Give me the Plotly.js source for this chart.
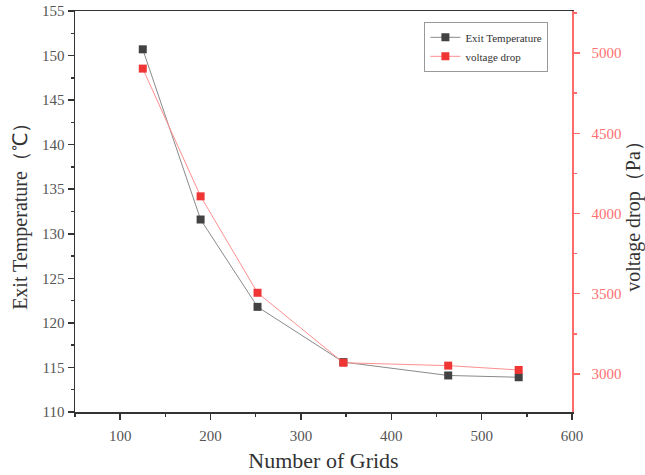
<!DOCTYPE html>
<html>
<head>
<meta charset="utf-8">
<script src="https://cdn.plot.ly/plotly-3.0.1.min.js"></script>
<style>html,body{margin:0;padding:0;background:#fff;}#chart{width:645px;height:475px;}</style>
</head>
<body>
<div id="chart"></div>
<script>
const grids = [125, 189, 252, 347, 463, 541];
const exitTemperature = [150.7, 131.6, 121.8, 115.6, 114.1, 113.9];
const voltageDrop = [4903, 4107, 3506, 3070, 3052, 3025];
const seriesNames = ["Exit Temperature", "voltage drop"];

const serif = "Liberation Serif, Times New Roman, serif";

const traces = [
  {
    x: grids, y: exitTemperature, name: seriesNames[0], type: "scatter", mode: "lines+markers",
    line: {color: "#8a8a8a", width: 1},
    marker: {symbol: "square", size: 8, color: "#424242"},
    yaxis: "y"
  },
  {
    x: grids, y: voltageDrop, name: seriesNames[1], type: "scatter", mode: "lines+markers",
    line: {color: "#ff9090", width: 1},
    marker: {symbol: "square", size: 8, color: "#f03535"},
    yaxis: "y2"
  }
];

const layout = {
  width: 645, height: 475,
  margin: {l: 75, r: 72.5, t: 11, b: 63},
  paper_bgcolor: "#fff", plot_bgcolor: "#fff",
  font: {family: serif, color: "#555"},
  showlegend: true,
  legend: {
    x: 0.703, y: 0.973, xanchor: "left", yanchor: "top",
    bgcolor: "#fff", bordercolor: "#999", borderwidth: 1,
    font: {family: serif, size: 11, color: "#333"},
    itemwidth: 30, tracegroupgap: 0
  },
  xaxis: {
    range: [50, 600], dtick: 100, tick0: 0,
    showgrid: false, zeroline: false,
    showline: true, linecolor: "#333", linewidth: 1.5, mirror: true,
    ticks: "outside", ticklen: 6, tickwidth: 1.5, tickcolor: "#333",
    minor: {dtick: 50, tick0: 0, ticks: "outside", ticklen: 3, tickwidth: 1.5, tickcolor: "#333", showgrid: false},
    tickfont: {family: serif, size: 15, color: "#555"},
    ticklabelstandoff: 3,
    title: {text: "Number of Grids", font: {family: serif, size: 22, color: "#333"}, standoff: 10}
  },
  yaxis: {
    range: [110, 155], dtick: 5, tick0: 110,
    showgrid: false, zeroline: false,
    showline: true, linecolor: "#333", linewidth: 1.5,
    ticks: "outside", ticklen: 6, tickwidth: 1.5, tickcolor: "#333",
    minor: {dtick: 2.5, tick0: 110, ticks: "outside", ticklen: 3, tickwidth: 1.5, tickcolor: "#333", showgrid: false},
    tickfont: {family: serif, size: 15, color: "#555"},
    title: {text: "Exit Temperature（℃）", font: {family: serif, size: 20, color: "#333"}, standoff: 9}
  },
  yaxis2: {
    overlaying: "y", side: "right",
    range: [2763, 5262], dtick: 500, tick0: 3000,
    showgrid: false, zeroline: false,
    showline: true, linecolor: "#ff6b6b", linewidth: 1.5,
    ticks: "outside", ticklen: 6, tickwidth: 1.5, tickcolor: "#ff6b6b",
    minor: {dtick: 250, tick0: 3000, ticks: "outside", ticklen: 3, tickwidth: 1.5, tickcolor: "#ff6b6b", showgrid: false},
    tickfont: {family: serif, size: 15, color: "#ff7070"},
    ticklabelstandoff: 9,
    title: {text: "voltage drop（Pa）", font: {family: serif, size: 20, color: "#333"}, standoff: 8}
  }
};

Plotly.newPlot("chart", traces, layout, {displayModeBar: false, staticPlot: true});
</script>
</body>
</html>
